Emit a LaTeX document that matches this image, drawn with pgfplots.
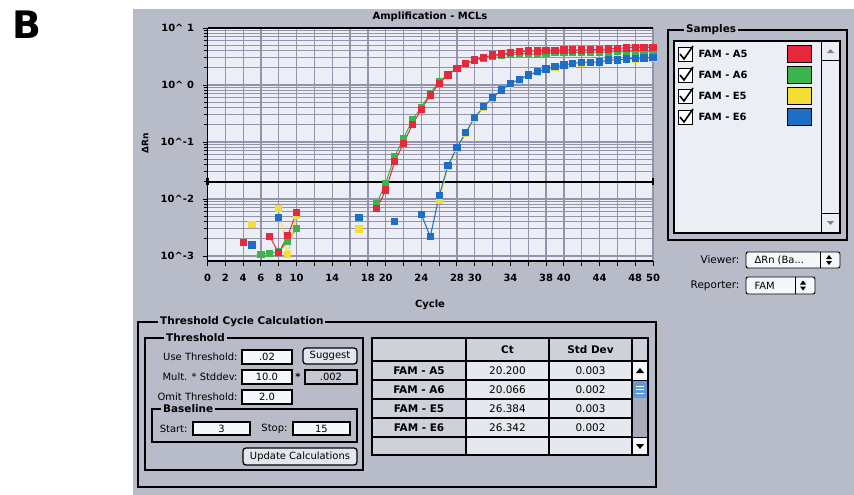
\documentclass[border=0pt]{standalone}
\usepackage{pgfplots}
\usepackage{pgfplotstable}
\pgfplotsset{compat=1.18}
\usepackage{fontspec}
\setmainfont{DejaVu Sans}
\definecolor{panel}{RGB}{184,188,200}
\definecolor{plotbg}{RGB}{236,238,246}
\definecolor{gridc}{RGB}{150,146,172}
\definecolor{fieldc}{RGB}{246,247,251}
\definecolor{cellc}{RGB}{230,232,240}
\definecolor{headc}{RGB}{206,208,218}
\definecolor{btnc}{RGB}{228,230,238}
\definecolor{dimc}{RGB}{196,200,210}
\definecolor{trackc}{RGB}{168,172,186}
\definecolor{cA5}{RGB}{230,40,60}
\definecolor{cA6}{RGB}{60,180,75}
\definecolor{cE5}{RGB}{245,222,50}
\definecolor{cE6}{RGB}{30,110,200}
\newcommand{\fs}[1]{\fontsize{#1}{#1}\selectfont}

\pgfplotstableread{
c  A5      A6      E5      E6
4  0.00171 nan     nan     nan
5  nan     nan     0.0036  0.00156
6  nan     0.00108 nan     nan
7  0.00218 0.00112 nan     nan
8  0.00114 0.00118 0.00687 0.00478
9  0.00227 0.00183 0.00105 nan
10 0.00585 0.00306 0.0052  nan
11 nan     nan     nan     nan
17 nan     nan     0.00298 0.00478
18 nan     nan     nan     nan
19 0.00676 0.0084  nan     nan
20 0.0144  0.019   nan     nan
21 0.045   0.056   nan     0.0040
22 0.095   0.116   nan     nan
23 0.204   0.243   nan     nan
24 0.375   0.41    nan     0.0054
25 0.668   0.714   nan     0.00218
26 1.07    1.15    0.0093  0.0114
27 1.50    1.55    0.037   0.0394
28 1.96    1.98    0.076   0.0794
29 2.40    2.38    0.142   0.148
30 2.75    2.70    0.262   0.271
31 3.06    2.98    0.40    0.416
32 3.36    3.20    0.59    0.608
33 3.50    3.35    0.79    0.817
34 3.69    3.45    1.04    1.07
35 3.84    3.52    1.22    1.26
36 3.95    3.58    1.46    1.50
37 3.96    3.40    1.66    1.71
38 3.98    3.62    1.86    1.91
39 4.02    3.66    2.03    2.09
40 4.11    3.70    2.18    2.24
41 4.12    3.72    2.33    2.40
42 4.12    3.74    2.43    2.50
43 4.15    3.76    2.45    2.52
44 4.20    3.78    2.47    2.53
45 4.30    3.80    2.68    2.75
46 4.40    3.82    2.68    2.75
47 4.45    3.84    2.79    2.86
48 4.58    3.86    2.87    2.94
49 4.58    3.88    2.91    2.98
50 4.58    3.90    2.99    3.06
}\data

\begin{document}
\begin{tikzpicture}
\path[use as bounding box] (0,0) rectangle (854bp,-495bp);
\fill[white] (0,0) rectangle (854bp,-495bp);
\fill[panel] (133bp,-9bp) rectangle (854bp,-495bp);

\begin{axis}[
  at={(207.5bp,-261bp)}, anchor=south west,
  scale only axis, width=445.5bp, height=233bp,
  xmin=0, xmax=50, ymode=log, ymin=8.2e-4, ymax=10,
  axis background/.style={fill=plotbg},
  axis lines=left, axis line style={-, black, line width=1.5pt},
  xtick={0,2,...,50},
  xticklabels={0,2,4,6,8,10,{},14,{},18,20,{},24,{},28,30,{},34,{},38,40,{},44,{},48,50},
  ytick={0.001,0.01,0.1,1,10},
  yticklabels={10\textasciicircum-3,10\textasciicircum-2,10\textasciicircum-1,10\textasciicircum\ 0,10\textasciicircum\ 1},
  tick label style={font=\bfseries\fs{10}, black},
  xticklabel style={yshift=-5bp},
  yticklabel style={xshift=-5bp},
  tick align=outside,
  major tick length=5bp, minor tick length=4bp,
  tick style={black, line width=1pt},
  xmajorgrids, ymajorgrids, yminorgrids,
  major grid style={gridc, line width=1.25pt},
  minor grid style={gridc, line width=1.1pt},
  unbounded coords=jump,
  clip=false,
]
\draw[black, line width=1.2pt] (rel axis cs:0,1) -- (rel axis cs:1,1);
\addplot[black, line width=1.4pt, mark=|, mark size=3.5bp, mark options={line width=2.6pt}] coordinates {(0,0.02) (50,0.02)};
\addplot[cA6, line width=1pt, mark=square*, mark size=3.1bp] table[x=c,y=A6]{\data};
\addplot[cE5, line width=1pt, mark=square*, mark size=3.1bp] table[x=c,y=E5]{\data};
\addplot[cE6, line width=1pt, mark=square*, mark size=3.1bp] table[x=c,y=E6]{\data};
\addplot[cA5, line width=1pt, mark=square*, mark size=3.1bp] table[x=c,y=A5]{\data};
\end{axis}

\begin{scope}[x=1bp, y=-1bp]
% panel label
\node[font=\bfseries\fs{38}] at (27,25) {B};
% chart texts
\node[font=\bfseries\fs{10}] at (430,17) {Amplification - MCLs};
\node[font=\bfseries\fs{10}] at (430,305) {Cycle};
\node[font=\bfseries\fs{9}, rotate=90] at (145,143) {ΔRn};

% Samples box
\draw[line width=1.2pt] (668,30) rectangle (847,240);
\node[font=\bfseries\fs{10.5}, fill=panel, anchor=west, inner sep=2bp] at (684,30) {Samples};
\draw[line width=1.2pt, fill=plotbg] (674,41) rectangle (840,233);
\draw[line width=1pt] (821,41) -- (821,233);
\draw[line width=0.8pt] (821,60) -- (840,60);
\draw[line width=0.8pt] (821,213) -- (840,213);
\fill[gray] (827,53) -- (834,53) -- (830.5,49) -- cycle;
\fill[gray] (827,221) -- (834,221) -- (830.5,225) -- cycle;
\foreach \yy/\nm/\cc in {54/A5/cA5, 75/A6/cA6, 96/E5/cE5, 117/E6/cE6}{
  \draw[line width=0.9pt, fill=white] (678,\yy-7) rectangle (692,\yy+7);
  \draw[line width=1.6pt] (680,\yy) -- (684,\yy+5) -- (693,\yy-8);
  \node[font=\bfseries\fs{10}, anchor=west] at (695,\yy) {FAM - \nm};
  \draw[line width=0.9pt, fill=\cc] (787,\yy-9) rectangle (811,\yy+8);
}

% Viewer / Reporter
\node[font=\fs{10.5}, anchor=east] at (743,260) {Viewer:};
\draw[line width=1pt, rounded corners=2bp, fill=fieldc] (746,252) rectangle (840,268);
\node[font=\fs{10}, anchor=west] at (751,260) {ΔRn (Ba...};
\draw[line width=0.8pt] (820,252) -- (820,268);
\fill (826,259) -- (832,259) -- (829,255) -- cycle;
\fill (826,261) -- (832,261) -- (829,265) -- cycle;
\node[font=\fs{10.5}, anchor=east] at (743,285.5) {Reporter:};
\draw[line width=1pt, rounded corners=2bp, fill=fieldc] (746,277) rectangle (815,294);
\node[font=\fs{10}, anchor=west] at (751,285.5) {FAM};
\draw[line width=0.8pt] (795,277) -- (795,294);
\fill (800,284.5) -- (806,284.5) -- (803,280.5) -- cycle;
\fill (800,286.5) -- (806,286.5) -- (803,290.5) -- cycle;

% Threshold Cycle Calculation
\draw[line width=1.2pt] (138,322) rectangle (656,487);
\node[font=\bfseries\fs{10.5}, fill=panel, anchor=west, inner sep=2bp] at (158,322) {Threshold Cycle Calculation};
\draw[line width=1.2pt] (145,338) rectangle (363,470);
\node[font=\bfseries\fs{10.5}, fill=panel, anchor=west, inner sep=2bp] at (164,338) {Threshold};
\node[font=\fs{10}, anchor=east] at (241,357) {Use Threshold:};
\node[font=\fs{10}, anchor=east] at (241,377) {Mult. * Stddev:};
\node[font=\fs{10}, anchor=east] at (241,397) {Omit Threshold:};
\draw[line width=1.1pt, fill=fieldc] (242,350) rectangle (292,364);
\node[font=\fs{10}] at (267,357) {.02};
\draw[line width=1.1pt, fill=fieldc] (242,370) rectangle (292,384);
\node[font=\fs{10}] at (267,377) {10.0};
\draw[line width=1.1pt, fill=fieldc] (242,390) rectangle (292,404);
\node[font=\fs{10}] at (267,397) {2.0};
\node[font=\bfseries\fs{10}] at (298,377) {*};
\draw[line width=1.1pt, fill=dimc] (305,370) rectangle (357,384);
\node[font=\fs{10}] at (331,377) {.002};
\draw[line width=1.3pt, rounded corners=3bp, fill=btnc] (303,348) rectangle (357,364);
\node[font=\fs{10}] at (330,356) {Suggest};
\draw[line width=1.2pt] (152,409) rectangle (357,442);
\node[font=\bfseries\fs{10.5}, fill=panel, anchor=west, inner sep=2bp] at (161,409) {Baseline};
\node[font=\fs{10}, anchor=east] at (191,428.5) {Start:};
\draw[line width=1.1pt, fill=fieldc] (193,422) rectangle (250,435);
\node[font=\fs{10}] at (221.5,428.5) {3};
\node[font=\fs{10}, anchor=east] at (291,428.5) {Stop:};
\draw[line width=1.1pt, fill=fieldc] (293,422) rectangle (350,435);
\node[font=\fs{10}] at (321.5,428.5) {15};
\draw[line width=1.3pt, rounded corners=3bp, fill=btnc] (243,448) rectangle (357,465);
\node[font=\fs{10}] at (300,456.5) {Update Calculations};

% Table
\fill[headc] (372,338) rectangle (648,361);
\fill[headc] (372,361) rectangle (466,455);
\fill[cellc] (466,361) rectangle (632,455);
\fill[trackc] (632,361) rectangle (648,455);
\fill[fieldc] (632,361) rectangle (648,380);
\fill[fieldc] (632,437) rectangle (648,455);
\fill[cE6!70!white] (633,381) rectangle (647,398);
\draw[white, line width=0.6pt] (636,386) -- (644,386) (636,389.5) -- (644,389.5) (636,393) -- (644,393);
\fill (636,373) -- (644,373) -- (640,368) -- cycle;
\fill (636,444) -- (644,444) -- (640,449) -- cycle;
\draw[line width=1.2pt] (372,338) rectangle (648,455);
\foreach \xx in {466,549,632}{\draw[line width=1.2pt] (\xx,338) -- (\xx,455);}
\foreach \yy in {361,380,399,418,437}{\draw[line width=1.2pt] (372,\yy) -- (632,\yy);}
\draw[line width=1.2pt] (632,361) -- (648,361);
\draw[line width=1pt] (632,380) -- (648,380);
\draw[line width=1pt] (632,437) -- (648,437);
\node[font=\bfseries\fs{10.5}] at (507.5,350) {Ct};
\node[font=\bfseries\fs{10.5}] at (590.5,350) {Std Dev};
\foreach \yy/\nm/\ct/\sd in {370.5/A5/20.200/0.003, 389.5/A6/20.066/0.002, 408.5/E5/26.384/0.003, 427.5/E6/26.342/0.002}{
  \node[font=\bfseries\fs{10.5}] at (419,\yy) {FAM - \nm};
  \node[font=\fs{10.5}] at (507.5,\yy) {\ct};
  \node[font=\fs{10.5}] at (590.5,\yy) {\sd};
}
\end{scope}
\end{tikzpicture}
\end{document}
